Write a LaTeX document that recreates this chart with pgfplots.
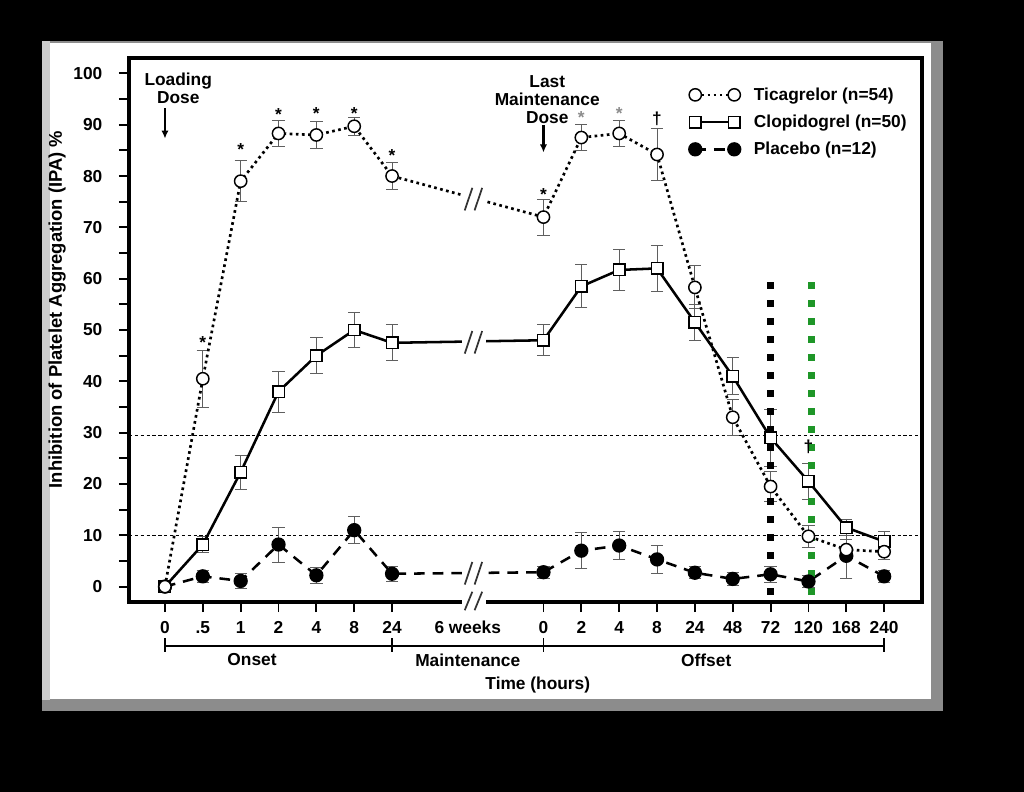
\documentclass[border=0pt]{standalone}
\usepackage{pgfplots}
\pgfplotsset{compat=1.18}
\usepackage{fontspec}
\setmainfont{Liberation Sans}
\usetikzlibrary{arrows.meta}
\definecolor{vgreen}{RGB}{30,150,40}
\definecolor{ebar}{RGB}{95,95,95}

\pgfplotstableread{
x y e
0 0 0
1 40.5 5.5
2 79 4
3 88.3 2.6
4 88 2.6
5 89.7 1.7
6 80 2.7
10 72 3.5
11 87.5 2.5
12 88.3 2.6
13 84.2 5
14 58.3 4.2
15 33 3.5
16 19.5 3
17 9.8 2.2
18 7.2 2
19 6.8 1.6
}\ticag

\pgfplotstableread{
x y e
0 0 0
1 8.2 1.5
2 22.3 3.3
3 38 4
4 45 3.5
5 50 3.4
6 47.5 3.5
10 48 3
11 58.5 4.2
12 61.7 4
13 62 4.5
14 51.5 3.5
15 41 3.6
16 29 5.5
17 20.5 3.5
18 11.5 1.6
19 8.8 2
}\clopi

\pgfplotstableread{
x y e
0 0 0
1 2 1.2
2 1.1 1.5
3 8.2 3.4
4 2.2 1.5
5 11 2.6
6 2.5 1.5
10 2.8 1.2
11 7 3.5
12 8 2.8
13 5.3 2.8
14 2.7 1.2
15 1.5 1.2
16 2.4 1.5
17 1 1.2
18 6 4.4
19 2 1.2
}\placebo

\newcommand{\brk}[2]{%
  \fill[white] (axis cs:7.86,#2-1.3) rectangle (axis cs:8.47,#2+1.3);
  \draw[black!80, line width=1.3pt] (axis cs:7.92,#1-2.2) -- (axis cs:8.12,#1+2.2);
  \draw[black!80, line width=1.3pt] (axis cs:8.18,#1-2.2) -- (axis cs:8.38,#1+2.2);
}

\pgfplotsset{
  ebplot/.style={forget plot, draw=none, mark=none,
    error bars/.cd, y dir=both, y explicit,
    error bar style={draw=ebar, line width=0.7pt, solid},
    error mark options={draw=ebar, line width=0.7pt, mark size=4.6pt, rotate=90, solid}},
}

\begin{document}
\begin{tikzpicture}
\begin{scope}[shift={(-96.75pt,451.5pt)}, x=0.75pt, y=-0.75pt]
  \fill[black] (0,0) rectangle (1024,792);
  \fill[black!45] (42,41) rectangle (943,711);
  \fill[black!20] (42,41) rectangle (50,700);
  \fill[white] (50,43) rectangle (931,699);
\end{scope}
\begin{axis}[
  at={(0,0)}, anchor=south west, scale only axis,
  width=594.75pt, height=408pt,
  xmin=-0.95, xmax=20, ymin=-3, ymax=103,
  clip=false,
  axis line style={line width=2.4pt},
  tick style={line width=1.4pt, black},
  major tick length=7.5pt, minor tick length=7.5pt,
  tick align=outside, xtick pos=bottom, ytick pos=left,
  ytick={0,10,...,100}, minor ytick={5,15,...,95},
  xtick={0,1,2,3,4,5,6,10,11,12,13,14,15,16,17,18,19},
  xticklabels={0,.5,1,2,4,8,24,0,2,4,8,24,48,72,120,168,240},
  extra x ticks={8}, extra x tick labels={6 weeks},
  extra x tick style={major tick length=0pt, xticklabel style={yshift=-7.5pt}},
  ticklabel style={font=\fontsize{13}{15}\selectfont\bfseries},
  xticklabel style={yshift=-3.5pt},
  yticklabel style={xshift=-9pt},
  /pgf/number format/assume math mode=true,
  reverse legend,
  legend cell align=left,
  legend style={at={(rel axis cs:0.706,0.951)}, anchor=north west, draw=none, fill=none,
    font=\fontsize{13}{15}\selectfont\bfseries, row sep=5.5pt, inner sep=0pt},
  legend image code/.code={%
    \draw[#1, mark=none] (0pt,0pt) -- (29.25pt,0pt);
    \draw[#1] plot coordinates {(0pt,0pt)};
    \draw[#1] plot coordinates {(29.25pt,0pt)};
    \path (41pt,0pt);},
]
% reference lines
\draw[line width=0.7pt, dash pattern=on 2.4pt off 2pt] (axis cs:-0.95,29.5) -- (axis cs:20,29.5);
\draw[line width=0.7pt, dash pattern=on 2.4pt off 2pt] (axis cs:-0.95,10) -- (axis cs:20,10);

% error bars first (under markers)
\addplot[ebplot] table[x=x, y=y, y error=e] {\placebo};
\addplot[ebplot] table[x=x, y=y, y error=e] {\clopi};
\addplot[ebplot] table[x=x, y=y, y error=e] {\ticag};

\addplot[black, line width=1.9pt, dash pattern=on 8pt off 6pt, mark=*, mark size=4.4pt,
  mark options={solid, fill=black}]
  table[x=x, y=y] {\placebo};
\addlegendentry{Placebo (n=12)}

\addplot[black, line width=1.9pt, mark=square*, mark size=4.3pt,
  mark options={solid, fill=white, draw=black, line width=1.1pt}]
  table[x=x, y=y] {\clopi};
\addlegendentry{Clopidogrel (n=50)}

\addplot[black, line width=2pt, dash pattern=on 2pt off 2.6pt, mark=*, mark size=4.6pt,
  mark options={solid, fill=white, draw=black, line width=1.1pt}]
  table[x=x, y=y] {\ticag};
\addlegendentry{Ticagrelor (n=54)}

% breaks
\brk{75.5}{75.7}
\brk{47.6}{47.7}
\brk{2.6}{2.6}
\fill[white] (axis cs:7.86,-4.0) rectangle (axis cs:8.47,-2.0);
\draw[black!80, line width=1.3pt] (axis cs:7.92,-4.6) -- (axis cs:8.12,-1.0);
\draw[black!80, line width=1.3pt] (axis cs:8.18,-4.6) -- (axis cs:8.38,-1.0);

% vertical thick dashed lines
\draw[black, line width=5.25pt, dash pattern=on 5.25pt off 8.25pt] (axis cs:16,59.3) -- (axis cs:16,-2.5);
\draw[vgreen, line width=5.25pt, dash pattern=on 5.25pt off 8.25pt] (axis cs:17.07,59.3) -- (axis cs:17.07,-2.5);

% significance marks
\begin{scope}[every node/.style={font=\fontsize{13}{15}\selectfont\bfseries, inner sep=0pt, anchor=north}]
\node at (axis cs:1,48.8) {*};
\node at (axis cs:2,86.3) {*};
\node at (axis cs:3,93.1) {*};
\node at (axis cs:4,93.4) {*};
\node at (axis cs:5,93.4) {*};
\node at (axis cs:6,85.2) {*};
\node at (axis cs:10,77.7) {*};
\node[text=black!45] at (axis cs:11,92.7) {*};
\node[text=black!45] at (axis cs:12,93.4) {*};
\node[anchor=center] at (axis cs:13,91.2) {\textdagger};
\node[anchor=center] at (axis cs:17,27.2) {\textdagger};
\end{scope}

% dose annotations
\begin{scope}[every node/.style={font=\fontsize{13}{13.5}\selectfont\bfseries, inner sep=0pt, align=center}]
\node at (axis cs:0.35,97.0) {Loading\\Dose};
\node at (axis cs:10.1,94.9) {Last\\Maintenance\\Dose};
\end{scope}
\draw[line width=1.6pt, -{Latex[length=6pt,width=5.5pt]}] (axis cs:0,93.2) -- (axis cs:0,87.3);
\draw[line width=1.6pt, -{Latex[length=6pt,width=5.5pt]}] (axis cs:10,89.9) -- (axis cs:10,84.6);

% phase bracket
\draw[line width=1.4pt] (axis cs:0,-11.5) -- (axis cs:19,-11.5);
\draw[line width=1.4pt] (axis cs:0,-10.1) -- (axis cs:0,-12.8);
\draw[line width=1.4pt] (axis cs:6,-10.1) -- (axis cs:6,-12.8);
\draw[line width=1.4pt] (axis cs:10,-10.1) -- (axis cs:10,-12.8);
\draw[line width=1.4pt] (axis cs:19,-10.1) -- (axis cs:19,-12.8);
\begin{scope}[every node/.style={font=\fontsize{13}{15}\selectfont\bfseries, inner sep=0pt}]
\node at (axis cs:2.3,-14.3) {Onset};
\node at (axis cs:8,-14.3) {Maintenance};
\node at (axis cs:14.3,-14.3) {Offset};
\node at (axis cs:9.85,-19.1) {Time (hours)};
\node[rotate=90, font=\fontsize{13.8}{15}\selectfont\bfseries] at (axis cs:-2.85,54) {Inhibition of Platelet Aggregation (IPA) \%};
\end{scope}
\end{axis}
\end{tikzpicture}
\end{document}
